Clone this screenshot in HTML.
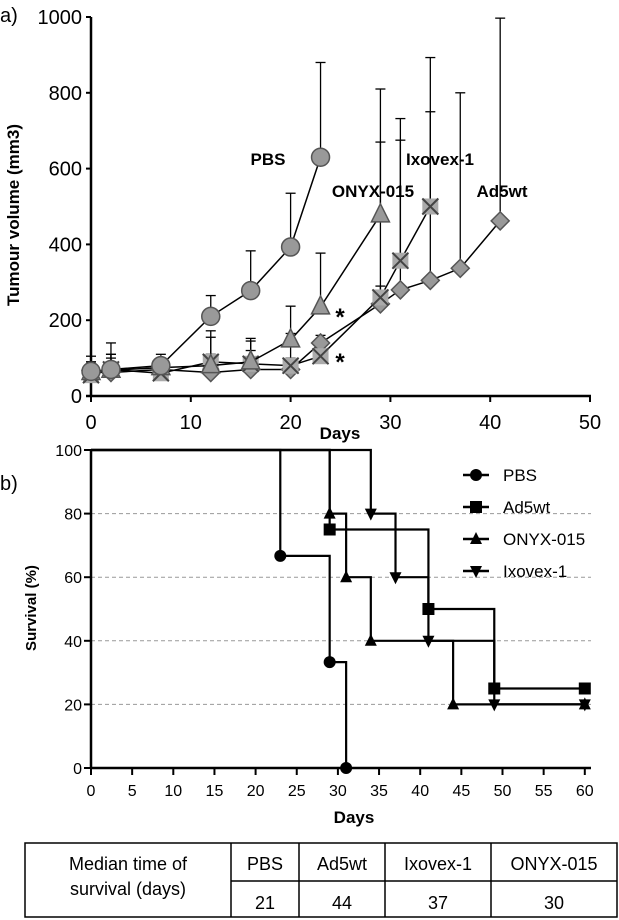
<!DOCTYPE html>
<html><head><meta charset="utf-8">
<style>
html,body{margin:0;padding:0;background:#fff;}
svg{display:block;font-family:"Liberation Sans",Arial,sans-serif;}
</style></head>
<body>
<svg id="fig" width="619" height="920" viewBox="0 0 619 920">
<text x="0" y="22" font-size="20">a)</text>
<text x="0" y="490" font-size="20">b)</text>
<g id="chartA"></g>
<g id="chartB"></g>
<g id="table">
<rect x="25" y="843" width="592" height="74" fill="none" stroke="#000" stroke-width="1.5"/>
<line x1="231" y1="881" x2="617" y2="881" stroke="#000" stroke-width="1.5"/>
<line x1="231" y1="843" x2="231" y2="917" stroke="#000" stroke-width="1.5"/>
<line x1="299" y1="843" x2="299" y2="917" stroke="#000" stroke-width="1.5"/>
<line x1="385" y1="843" x2="385" y2="917" stroke="#000" stroke-width="1.5"/>
<line x1="491" y1="843" x2="491" y2="917" stroke="#000" stroke-width="1.5"/>
<g font-size="18" text-anchor="middle">
<text x="128" y="870">Median time of</text>
<text x="128" y="895">survival (days)</text>
<text x="265" y="870">PBS</text>
<text x="342" y="870">Ad5wt</text>
<text x="438" y="870">Ixovex-1</text>
<text x="554" y="870">ONYX-015</text>
<text x="265" y="909">21</text>
<text x="342" y="909">44</text>
<text x="438" y="909">37</text>
<text x="554" y="909">30</text>
</g></g>
</svg>
<script>
// ---- Chart A data ----
const aXTicks = [0,10,20,30,40,50];
const aYTicks = [0,200,400,600,800,1000];
const pbsDays = [0,2,7,12,16,20,23];
const pbsVol = [65,70,80,210,278,393,630];
const pbsErr = [105,110,100,265,383,535,880];
const onyxDays = [0,2,7,12,16,20,23,29];
const onyxVol = [62,68,75,80,90,148,235,478];
const onyxErr = [90,140,110,155,145,237,377,810];
const ixoDays = [0,2,7,12,16,20,23,29,31,34];
const ixoVol = [55,70,60,90,85,80,105,260,357,500];
const ixoErr = [80,110,95,172,152,165,120,670,732,893];
const adDays = [0,2,7,12,16,20,23,29,31,34,37,41];
const adVol = [68,62,70,62,70,70,140,243,280,305,337,462];
const adErr = [90,100,90,110,120,100,160,290,675,750,800,997];
// ---- Chart B data ----
const bXTicks = [0,5,10,15,20,25,30,35,40,45,50,55,60];
const bYTicks = [0,20,40,60,80,100];
const pbsSurvT = [0,23,29,31];
const pbsSurvV = [100,66.7,33.3,0];
const adSurvT = [0,29,41,49,60];
const adSurvV = [100,75,50,25,25];
const onyxSurvT = [0,29,31,34,44,60];
const onyxSurvV = [100,80,60,40,20,20];
const ixoSurvT = [0,34,37,41,49,60];
const ixoSurvV = [100,80,60,40,20,20];

const NS="http://www.w3.org/2000/svg";
function mk(parent,tag,attrs){const e=document.createElementNS(NS,tag);for(const k in attrs)e.setAttribute(k,attrs[k]);parent.appendChild(e);return e;}

// ===== Chart A =====
const A=document.getElementById('chartA');
const ax=d=>91+d*9.98, ay=v=>396-v*0.379;
mk(A,'line',{x1:91,y1:ay(1000),x2:91,y2:396,stroke:'#000','stroke-width':2.5});
mk(A,'line',{x1:86,y1:396,x2:591,y2:396,stroke:'#000','stroke-width':2.5});
aYTicks.forEach(v=>{
 const t=mk(A,'line',{x1:86,y1:ay(v),x2:91,y2:ay(v),stroke:'#000','stroke-width':2});
 
 const l=mk(A,'text',{x:82,y:ay(v)+7,'font-size':20,'text-anchor':'end'});l.textContent=v;
 
});
aXTicks.forEach(d=>{
 mk(A,'line',{x1:ax(d),y1:396,x2:ax(d),y2:402,stroke:'#000','stroke-width':2});
 const l=mk(A,'text',{x:ax(d),y:429,'font-size':20,'text-anchor':'middle'});l.textContent=d;
 
});
let t=mk(A,'text',{x:340,y:439,'font-size':17,'font-weight':'bold','text-anchor':'middle'});t.textContent='Days';

t=mk(A,'text',{x:0,y:0,'font-size':17,'font-weight':'bold','text-anchor':'middle',transform:'translate(19,215) rotate(-90)'});t.textContent='Tumour volume (mm3)';


function marker(g,shape,x,y){
 const st={fill:'#999',stroke:'#555','stroke-width':1.5};
 if(shape==='circle')return mk(g,'circle',Object.assign({cx:x,cy:y,r:9},st));
 if(shape==='tri')return mk(g,'polygon',Object.assign({points:`${x},${y-11} ${x+9},${y+7} ${x-9},${y+7}`},st));
 if(shape==='diamond')return mk(g,'polygon',Object.assign({points:`${x},${y-9} ${x+9},${y} ${x},${y+9} ${x-9},${y}`},st));
 const g2=mk(g,'g',{});
 mk(g2,'rect',{x:x-8,y:y-8,width:16,height:16,fill:'#aaa',stroke:'none'});
 mk(g2,'path',{d:`M${x-8},${y-8}L${x+8},${y+8}M${x+8},${y-8}L${x-8},${y+8}`,stroke:'#444','stroke-width':2});
 return g2;
}
function seriesA(name,days,vol,err,shape){
 const g=mk(A,'g',{});
 days.forEach((d,i)=>{
  mk(g,'line',{x1:ax(d),y1:ay(vol[i]),x2:ax(d),y2:ay(err[i]),stroke:'#000','stroke-width':1.3});
  mk(g,'line',{x1:ax(d)-5,y1:ay(err[i]),x2:ax(d)+5,y2:ay(err[i]),stroke:'#000','stroke-width':1.3});
 });
 mk(g,'polyline',{points:days.map((d,i)=>ax(d)+','+ay(vol[i])).join(' '),fill:'none',stroke:'#000','stroke-width':1.5});
 days.forEach((d,i)=>{const m=marker(g,shape,ax(d),ay(vol[i]));});
}
seriesA('ad5wt',adDays,adVol,adErr,'diamond');
seriesA('ixovex',ixoDays,ixoVol,ixoErr,'x');
seriesA('onyx',onyxDays,onyxVol,onyxErr,'tri');
seriesA('pbs',pbsDays,pbsVol,pbsErr,'circle');
[['PBS',268,165],['ONYX-015',373,197],['Ixovex-1',440,165],['Ad5wt',502,197]].forEach(([s,x,y])=>{
 const l=mk(A,'text',{x:x,y:y,'font-size':17,'font-weight':'bold','text-anchor':'middle'});l.textContent=s;
 
});
[[340,325],[340,370]].forEach(([x,y])=>{const l=mk(A,'text',{x:x,y:y,'font-size':24,'font-weight':'bold','text-anchor':'middle'});l.textContent='*';
 });

// ===== Chart B =====
const B=document.getElementById('chartB');
const bx=d=>91+d*8.23, by=v=>768-v*3.18;
bYTicks.forEach(v=>{
 if(v>0&&v<100){const gl=mk(B,'line',{x1:91,y1:by(v),x2:591,y2:by(v),stroke:'#999','stroke-width':1,'stroke-dasharray':'4,3'});
 }
 mk(B,'line',{x1:84,y1:by(v),x2:91,y2:by(v),stroke:'#000','stroke-width':2});
 const l=mk(B,'text',{x:82,y:by(v)+6,'font-size':16,'text-anchor':'end'});l.textContent=v;
 
});
bXTicks.forEach(d=>{
 mk(B,'line',{x1:bx(d),y1:768,x2:bx(d),y2:775,stroke:'#000','stroke-width':2});
 const l=mk(B,'text',{x:bx(d),y:796,'font-size':16,'text-anchor':'middle'});l.textContent=d;
 
});
mk(B,'line',{x1:91,y1:by(100),x2:91,y2:769,stroke:'#000','stroke-width':2.5});
mk(B,'line',{x1:90,y1:768,x2:591,y2:768,stroke:'#000','stroke-width':2.5});
t=mk(B,'text',{x:354,y:823,'font-size':17,'font-weight':'bold','text-anchor':'middle'});t.textContent='Days';

t=mk(B,'text',{x:0,y:0,'font-size':15,'font-weight':'bold','text-anchor':'middle',transform:'translate(36,608) rotate(-90)'});t.textContent='Survival (%)';


function bMarker(g,shape,x,y){
 if(shape==='circle')return mk(g,'circle',{cx:x,cy:y,r:6,fill:'#000'});
 if(shape==='square')return mk(g,'rect',{x:x-6,y:y-6,width:12,height:12,fill:'#000'});
 if(shape==='tri')return mk(g,'polygon',{points:`${x},${y-7} ${x+6},${y+5} ${x-6},${y+5}`,fill:'#000'});
 return mk(g,'polygon',{points:`${x},${y+7} ${x+6},${y-5} ${x-6},${y-5}`,fill:'#000'});
}
function seriesB(name,T,V,shape){
 const g=mk(B,'g',{});
 let p=`M${bx(T[0])},${by(V[0])}`;
 for(let i=1;i<T.length;i++){p+=`H${bx(T[i])}V${by(V[i])}`;}
 mk(g,'path',{d:p,fill:'none',stroke:'#000','stroke-width':2.2});
 for(let i=1;i<T.length;i++){const m=bMarker(g,shape,bx(T[i]),by(V[i]));}
}
seriesB('pbs',pbsSurvT,pbsSurvV,'circle');
seriesB('ad5wt',adSurvT,adSurvV,'square');
seriesB('onyx',onyxSurvT,onyxSurvV,'tri');
seriesB('ixovex',ixoSurvT,ixoSurvV,'down');
[['PBS','circle'],['Ad5wt','square'],['ONYX-015','tri'],['Ixovex-1','down']].forEach(([s,sh],i)=>{
 const y=475+i*32;
 const g=mk(B,'g',{});
 mk(g,'line',{x1:463,y1:y,x2:489,y2:y,stroke:'#000','stroke-width':2.5});
 bMarker(g,sh,476,y);
 const l=mk(g,'text',{x:503,y:y+6,'font-size':17});l.textContent=s;
});
</script>
</body></html>
